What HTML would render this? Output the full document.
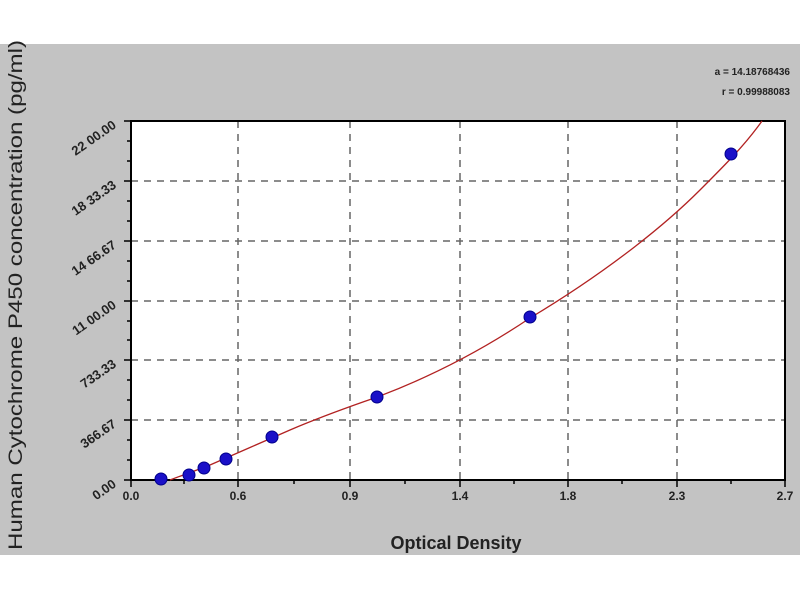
<!DOCTYPE html>
<html><head><style>body{margin:0;background:#fff}</style></head><body>
<svg width="800" height="600" xmlns="http://www.w3.org/2000/svg" font-family="Liberation Sans, sans-serif">
<rect x="0" y="0" width="800" height="600" fill="#fff"/>
<rect x="0" y="44" width="800" height="511" fill="#c3c3c3"/>
<rect x="131" y="121" width="654" height="359" fill="#fff"/>
<g stroke="#666" stroke-width="1.5" stroke-dasharray="7,6">
<line x1="238" y1="121" x2="238" y2="480"/><line x1="350" y1="121" x2="350" y2="480"/>
<line x1="460" y1="121" x2="460" y2="480"/><line x1="568" y1="121" x2="568" y2="480"/>
<line x1="677" y1="121" x2="677" y2="480"/>
<line x1="131" y1="181" x2="785" y2="181"/><line x1="131" y1="241" x2="785" y2="241"/>
<line x1="131" y1="301" x2="785" y2="301"/><line x1="131" y1="360" x2="785" y2="360"/>
<line x1="131" y1="420" x2="785" y2="420"/>
</g>
<rect x="131" y="121" width="654" height="359" fill="none" stroke="#000" stroke-width="2"/>
<g stroke="#000" stroke-width="1.5">
<line x1="124" y1="121" x2="131" y2="121"/><line x1="124" y1="181" x2="131" y2="181"/><line x1="124" y1="241" x2="131" y2="241"/><line x1="124" y1="301" x2="131" y2="301"/><line x1="124" y1="360" x2="131" y2="360"/><line x1="124" y1="420" x2="131" y2="420"/><line x1="124" y1="480" x2="131" y2="480"/>
<line x1="131" y1="480" x2="131" y2="487"/><line x1="238" y1="480" x2="238" y2="487"/><line x1="350" y1="480" x2="350" y2="487"/><line x1="460" y1="480" x2="460" y2="487"/><line x1="568" y1="480" x2="568" y2="487"/><line x1="677" y1="480" x2="677" y2="487"/><line x1="785" y1="480" x2="785" y2="487"/>
</g>
<g stroke="#000" stroke-width="1.5">
<line x1="127" y1="141" x2="131" y2="141"/><line x1="127" y1="161" x2="131" y2="161"/>
<line x1="127" y1="201" x2="131" y2="201"/><line x1="127" y1="221" x2="131" y2="221"/>
<line x1="127" y1="261" x2="131" y2="261"/><line x1="127" y1="281" x2="131" y2="281"/>
<line x1="127" y1="321" x2="131" y2="321"/><line x1="127" y1="340" x2="131" y2="340"/>
<line x1="127" y1="380" x2="131" y2="380"/><line x1="127" y1="400" x2="131" y2="400"/>
<line x1="127" y1="440" x2="131" y2="440"/><line x1="127" y1="460" x2="131" y2="460"/>
<line x1="184" y1="480" x2="184" y2="484"/><line x1="294" y1="480" x2="294" y2="484"/><line x1="405" y1="480" x2="405" y2="484"/><line x1="514" y1="480" x2="514" y2="484"/><line x1="622" y1="480" x2="622" y2="484"/><line x1="731" y1="480" x2="731" y2="484"/>
</g>
<path d="M170,480 C180,476 195,471 210,465 C240,452 260,443 290,430 C330,413 355,405 380,396 C440,373 490,345 530,318 C600,276 660,230 700,190 C725,165 745,145 762,121" fill="none" stroke="#b22222" stroke-width="1.3"/>
<g fill="#1a10c8" stroke="#00008b" stroke-width="1">
<circle cx="161" cy="479" r="6"/><circle cx="189" cy="475" r="6"/><circle cx="204" cy="468" r="6"/><circle cx="226" cy="459" r="6"/><circle cx="272" cy="437" r="6"/><circle cx="377" cy="397" r="6"/><circle cx="530" cy="317" r="6"/><circle cx="731" cy="154" r="6"/>
</g>
<g font-size="12" font-weight="bold" fill="#222" text-anchor="middle">
<text x="131" y="500">0.0</text><text x="238" y="500">0.6</text><text x="350" y="500">0.9</text><text x="460" y="500">1.4</text><text x="568" y="500">1.8</text><text x="677" y="500">2.3</text><text x="785" y="500">2.7</text>
</g>
<g font-size="13" font-weight="bold" fill="#222" text-anchor="end">
<text transform="translate(117,127) rotate(-35)">22 00.00</text>
<text transform="translate(117,187) rotate(-35)">18 33.33</text>
<text transform="translate(117,247) rotate(-35)">14 66.67</text>
<text transform="translate(117,307) rotate(-35)">11 00.00</text>
<text transform="translate(117,366) rotate(-35)">733.33</text>
<text transform="translate(117,426) rotate(-35)">366.67</text>
<text transform="translate(117,486) rotate(-35)">0.00</text>
</g>
<text x="456" y="549" font-size="18" font-weight="bold" fill="#222" text-anchor="middle">Optical Density</text>
<text transform="translate(22,295) rotate(-90)" font-size="19" fill="#222" text-anchor="middle" textLength="510" lengthAdjust="spacingAndGlyphs">Human Cytochrome P450 concentration (pg/ml)</text>
<g font-size="10" font-weight="bold" fill="#222" text-anchor="end">
<text x="790" y="75">a = 14.18768436</text><text x="790" y="95">r = 0.99988083</text>
</g>
</svg>
</body></html>
